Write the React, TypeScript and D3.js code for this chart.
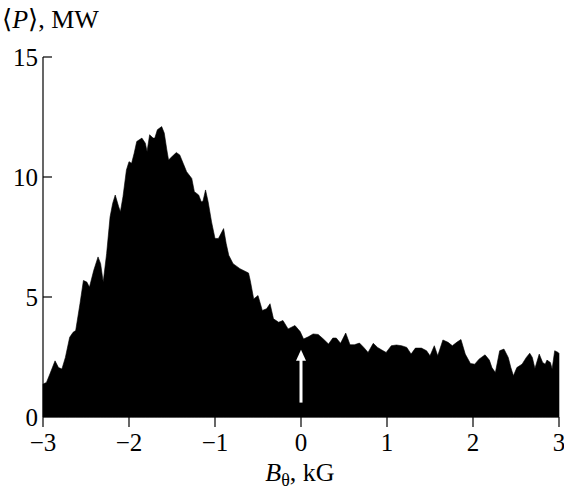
import React from "react";
import * as d3 from "d3";

const bField: number[] = [
  -3.0, -2.96, -2.92, -2.86, -2.82, -2.78, -2.74, -2.69, -2.65, -2.62, -2.57, -2.53, -2.49, -2.46,
  -2.41, -2.36, -2.33, -2.3, -2.26, -2.22, -2.19, -2.16, -2.12, -2.1, -2.07, -2.03, -2.0, -1.97,
  -1.94, -1.91, -1.85, -1.81, -1.79, -1.76, -1.72, -1.7, -1.67, -1.62, -1.59, -1.56, -1.54, -1.5,
  -1.45, -1.41, -1.37, -1.33, -1.27, -1.24, -1.19, -1.16, -1.14, -1.11, -1.08, -1.04, -1.0, -0.96,
  -0.9, -0.87, -0.84, -0.79, -0.71, -0.61, -0.59, -0.55, -0.5, -0.45, -0.4, -0.36, -0.32, -0.26,
  -0.21, -0.15, -0.07, -0.01, 0.03, 0.09, 0.14, 0.2, 0.26, 0.32, 0.37, 0.41, 0.46, 0.52, 0.57,
  0.62, 0.68, 0.73, 0.78, 0.84, 0.89, 0.94, 0.99, 1.05, 1.11, 1.17, 1.23, 1.28, 1.33, 1.4, 1.46,
  1.5, 1.55, 1.59, 1.65, 1.71, 1.76, 1.81, 1.86, 1.91, 1.97, 2.02, 2.07, 2.14, 2.19, 2.22, 2.26,
  2.31, 2.36, 2.41, 2.44, 2.47, 2.51, 2.57, 2.62, 2.66, 2.69, 2.72, 2.77, 2.81, 2.84, 2.86, 2.9,
  2.92, 2.95, 2.99, 3.0,
];

const power: number[] = [
  1.37, 1.44, 1.79, 2.34, 2.06, 2.0, 2.48, 3.32, 3.53, 3.6, 4.72, 5.69, 5.62, 5.41,
  6.11, 6.67, 6.39, 5.62, 6.81, 8.34, 8.9, 9.25, 8.76, 8.55, 9.18, 10.29, 10.64, 10.57,
  10.99, 11.48, 11.62, 11.41, 11.06, 11.76, 11.62, 11.62, 11.97, 12.1, 11.83, 11.13, 10.71, 10.85,
  11.02, 10.92, 10.57, 10.22, 9.94, 9.39, 9.25, 8.97, 8.99, 9.46, 8.97, 8.13, 7.44, 7.44,
  7.85, 7.23, 6.74, 6.39, 6.18, 6.0, 5.69, 4.92, 5.06, 4.44, 4.51, 4.72, 4.09, 3.95,
  4.02, 3.67, 3.81, 3.56, 3.25, 3.35, 3.46, 3.44, 3.25, 3.04, 3.29, 3.29, 3.07, 3.5, 3.01,
  3.01, 3.08, 2.9, 2.69, 3.07, 2.9, 2.79, 2.69, 2.97, 3.0, 2.97, 2.9, 2.62, 2.87, 2.87, 2.76,
  2.55, 2.97, 2.55, 3.21, 3.11, 2.97, 3.11, 3.23, 2.62, 2.23, 2.2, 2.41, 2.59, 2.37, 2.06, 1.85,
  2.76, 2.83, 2.48, 2.06, 1.72, 2.06, 2.2, 2.48, 2.66, 2.48, 2.02, 2.62, 2.27, 2.2, 2.37, 2.27,
  2.0, 2.76, 2.69, 2.65,
];

const xTicks: number[] = [-3, -2, -1, 0, 1, 2, 3];
const yTicks: number[] = [0, 5, 10, 15];
const xTickLabels: string[] = ["\u22123", "\u22122", "\u22121", "0", "1", "2", "3"];
const yTickLabels: string[] = ["0", "5", "10", "15"];
const arrowAt = 0;
const arrowFrom = 0.6;
const arrowTo = 2.8;

const W = 564;
const H = 491;
const FONT = "'Liberation Serif', 'Times New Roman', 'DejaVu Serif', serif";

export default function App() {
  const x = d3.scaleLinear().domain([-3, 3]).range([43, 559]);
  const y = d3.scaleLinear().domain([0, 15]).range([417, 57]);

  const data = bField.map((b, i) => ({ b, p: power[i] }));
  const area = d3
    .area<{ b: number; p: number }>()
    .x((d) => x(d.b))
    .y0(y(0))
    .y1((d) => y(d.p))
    .curve(d3.curveLinear);

  const ax = x(arrowAt);
  const aTip = y(arrowTo);
  const aBase = y(arrowFrom);

  return (
    <svg
      width={W}
      height={H}
      style={{ position: "absolute", left: 0, top: 0, background: "#fff" }}
      fontFamily={FONT}
    >
      <path d={area(data) || ""} fill="#000" stroke="#000" strokeWidth={0.6} />

      {/* arrow */}
      <line x1={ax} x2={ax} y1={aBase} y2={aTip + 9} stroke="#fff" strokeWidth={3} />
      <polygon
        points={`${ax},${aTip} ${ax - 5},${aTip + 11} ${ax + 5},${aTip + 11}`}
        fill="#fff"
      />

      {/* y axis */}
      <line x1={x(-3)} x2={x(-3)} y1={y(15)} y2={y(0)} stroke="#000" strokeWidth={1.2} />
      {yTicks.map((t, i) => (
        <g key={"y" + t}>
          {t > 0 && (
            <line x1={x(-3)} x2={x(-3) + 9} y1={y(t)} y2={y(t)} stroke="#000" strokeWidth={1.2} />
          )}
          <text x={x(-3) - 5} y={y(t)} dy="0.34em" textAnchor="end" fontSize={25}>
            {yTickLabels[i]}
          </text>
        </g>
      ))}

      {/* x axis */}
      <line x1={x(-3)} x2={x(3)} y1={y(0)} y2={y(0)} stroke="#000" strokeWidth={1.2} />
      {xTicks.map((t, i) => (
        <g key={"x" + t}>
          <line x1={x(t)} x2={x(t)} y1={y(0)} y2={y(0) + 10} stroke="#000" strokeWidth={1.2} />
          <text x={x(t)} y={451} textAnchor="middle" fontSize={25}>
            {xTickLabels[i]}
          </text>
        </g>
      ))}

      {/* axis titles */}
      <text x={2} y={28} fontSize={26}>
        {"\u27E8"}
        <tspan fontStyle="italic">P</tspan>
        {"\u27E9, MW"}
      </text>
      <text x={300} y={481} textAnchor="middle" fontSize={26}>
        <tspan fontStyle="italic">B</tspan>
        <tspan fontSize={18} dy={5}>{"\u03B8"}</tspan>
        <tspan dy={-5}>{", kG"}</tspan>
      </text>
    </svg>
  );
}
